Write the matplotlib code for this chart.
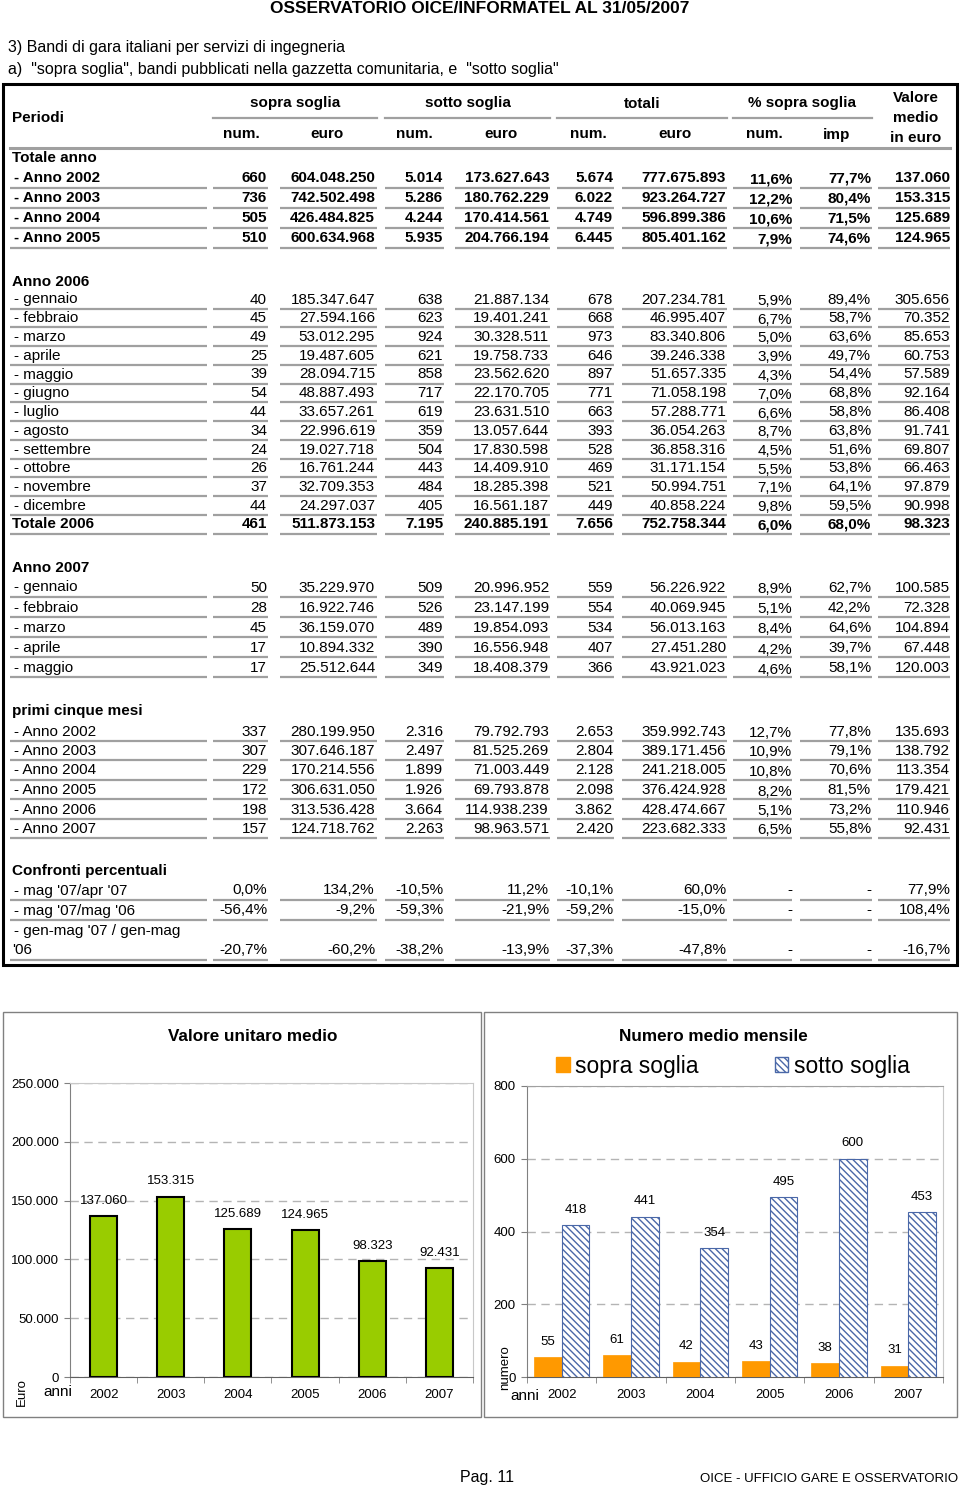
import numpy as np
import matplotlib.pyplot as plt
from matplotlib.patches import Rectangle, Patch

plt.rcParams['font.family'] = ['Liberation Sans', 'DejaVu Sans']

# --- chart data ---
anni = ['2002', '2003', '2004', '2005', '2006', '2007']
valore_medio = [137060, 153315, 125689, 124965, 98323, 92431]
media_sopra = [55, 61, 42, 43, 38, 31]
media_sotto = [418, 441, 354, 495, 600, 453]

# --- table data ---
head_gruppi = ['sopra soglia', 'sotto soglia', 'totali', '% sopra soglia']
head_colonne = ['num.', 'euro', 'num.', 'euro', 'num.', 'euro', 'num.', 'imp']
head_valore = ['Valore', 'medio', 'in euro']

totale_anno = [
    ('- Anno 2002', ['660', '604.048.250', '5.014', '173.627.643', '5.674', '777.675.893', '11,6%', '77,7%', '137.060']),
    ('- Anno 2003', ['736', '742.502.498', '5.286', '180.762.229', '6.022', '923.264.727', '12,2%', '80,4%', '153.315']),
    ('- Anno 2004', ['505', '426.484.825', '4.244', '170.414.561', '4.749', '596.899.386', '10,6%', '71,5%', '125.689']),
    ('- Anno 2005', ['510', '600.634.968', '5.935', '204.766.194', '6.445', '805.401.162', '7,9%', '74,6%', '124.965']),
]

anno_2006 = [
    ('- gennaio', ['40', '185.347.647', '638', '21.887.134', '678', '207.234.781', '5,9%', '89,4%', '305.656']),
    ('- febbraio', ['45', '27.594.166', '623', '19.401.241', '668', '46.995.407', '6,7%', '58,7%', '70.352']),
    ('- marzo', ['49', '53.012.295', '924', '30.328.511', '973', '83.340.806', '5,0%', '63,6%', '85.653']),
    ('- aprile', ['25', '19.487.605', '621', '19.758.733', '646', '39.246.338', '3,9%', '49,7%', '60.753']),
    ('- maggio', ['39', '28.094.715', '858', '23.562.620', '897', '51.657.335', '4,3%', '54,4%', '57.589']),
    ('- giugno', ['54', '48.887.493', '717', '22.170.705', '771', '71.058.198', '7,0%', '68,8%', '92.164']),
    ('- luglio', ['44', '33.657.261', '619', '23.631.510', '663', '57.288.771', '6,6%', '58,8%', '86.408']),
    ('- agosto', ['34', '22.996.619', '359', '13.057.644', '393', '36.054.263', '8,7%', '63,8%', '91.741']),
    ('- settembre', ['24', '19.027.718', '504', '17.830.598', '528', '36.858.316', '4,5%', '51,6%', '69.807']),
    ('- ottobre', ['26', '16.761.244', '443', '14.409.910', '469', '31.171.154', '5,5%', '53,8%', '66.463']),
    ('- novembre', ['37', '32.709.353', '484', '18.285.398', '521', '50.994.751', '7,1%', '64,1%', '97.879']),
    ('- dicembre', ['44', '24.297.037', '405', '16.561.187', '449', '40.858.224', '9,8%', '59,5%', '90.998']),
]
totale_2006 = ['461', '511.873.153', '7.195', '240.885.191', '7.656', '752.758.344', '6,0%', '68,0%', '98.323']

anno_2007 = [
    ('- gennaio', ['50', '35.229.970', '509', '20.996.952', '559', '56.226.922', '8,9%', '62,7%', '100.585']),
    ('- febbraio', ['28', '16.922.746', '526', '23.147.199', '554', '40.069.945', '5,1%', '42,2%', '72.328']),
    ('- marzo', ['45', '36.159.070', '489', '19.854.093', '534', '56.013.163', '8,4%', '64,6%', '104.894']),
    ('- aprile', ['17', '10.894.332', '390', '16.556.948', '407', '27.451.280', '4,2%', '39,7%', '67.448']),
    ('- maggio', ['17', '25.512.644', '349', '18.408.379', '366', '43.921.023', '4,6%', '58,1%', '120.003']),
]

primi_cinque = [
    ('- Anno 2002', ['337', '280.199.950', '2.316', '79.792.793', '2.653', '359.992.743', '12,7%', '77,8%', '135.693']),
    ('- Anno 2003', ['307', '307.646.187', '2.497', '81.525.269', '2.804', '389.171.456', '10,9%', '79,1%', '138.792']),
    ('- Anno 2004', ['229', '170.214.556', '1.899', '71.003.449', '2.128', '241.218.005', '10,8%', '70,6%', '113.354']),
    ('- Anno 2005', ['172', '306.631.050', '1.926', '69.793.878', '2.098', '376.424.928', '8,2%', '81,5%', '179.421']),
    ('- Anno 2006', ['198', '313.536.428', '3.664', '114.938.239', '3.862', '428.474.667', '5,1%', '73,2%', '110.946']),
    ('- Anno 2007', ['157', '124.718.762', '2.263', '98.963.571', '2.420', '223.682.333', '6,5%', '55,8%', '92.431']),
]

confronti = [
    ("- mag '07/apr '07", ['0,0%', '134,2%', '-10,5%', '11,2%', '-10,1%', '60,0%', '-', '-', '77,9%']),
    ("- mag '07/mag '06", ['-56,4%', '-9,2%', '-59,3%', '-21,9%', '-59,2%', '-15,0%', '-', '-', '108,4%']),
]
confronto_genmag = ['-20,7%', '-60,2%', '-38,2%', '-13,9%', '-37,3%', '-47,8%', '-', '-', '-16,7%']


def fmt_it(v):
    return f'{v:,}'.replace(',', '.')


fig = plt.figure(figsize=(9.6, 14.88), dpi=100)
page = fig.add_axes([0, 0, 1, 1])
page.set_xlim(0, 960)
page.set_ylim(1488, 0)
page.axis('off')

# column layout (pixels)
col_right = [267, 375, 443, 549, 613, 726, 792, 871, 950]
segments = [(10, 207), (213, 268), (280, 377), (385, 444), (455, 550),
            (557, 614), (622, 727), (733, 792), (800, 872), (878, 950)]
line_col = '#a0a0a0'
FS = 11
DY = 1.5  # matplotlib centres on the full bbox, nudge text down a bit


def underline(y):
    for a, b in segments:
        page.plot([a, b], [y, y], color=line_col, lw=1.6, solid_capstyle='butt')


def txt(x, y, s, **kw):
    kw.setdefault('fontsize', FS)
    kw.setdefault('va', 'center')
    page.text(x, y + DY, s, **kw)


def draw_row(y, label, values, bold=False, shift_pct=True):
    w = 'bold' if bold else 'normal'
    if label:
        txt(14, y, label, ha='left', fontweight=w)
    for i, (x, v) in enumerate(zip(col_right, values)):
        dy = 1.5 if (i == 6 and shift_pct) else 0
        txt(x, y + dy, v, ha='right', fontweight=w)
    underline(y + 10.5)


def section_title(y, s):
    txt(12, y, s, ha='left', fontweight='bold')


# page headings
txt(480, 7, 'OSSERVATORIO OICE/INFORMATEL AL 31/05/2007', ha='center', fontsize=12.5, fontweight='bold')
txt(8, 46, '3) Bandi di gara italiani per servizi di ingegneria', ha='left', fontsize=11.5)
txt(8, 68, 'a)  "sopra soglia", bandi pubblicati nella gazzetta comunitaria, e  "sotto soglia"',
    ha='left', fontsize=11.5)

# table frame and header
page.add_patch(Rectangle((3, 84), 954, 881, fill=False, ec='black', lw=2.2))
txt(12, 117, 'Periodi', ha='left', fontweight='bold')
group_x = [(213, 377), (385, 550), (557, 727), (733, 872)]
for (a, b), s in zip(group_x, head_gruppi):
    txt((a + b) / 2, 102, s, ha='center', fontweight='bold')
    page.plot([a, b], [118, 118], color=line_col, lw=1.6)
sub_x = [241, 327, 414, 501, 588, 675, 764, 837]
for xx, s in zip(sub_x, head_colonne):
    txt(xx, 133, s, ha='center', fontweight='bold')
for k, s in enumerate(head_valore):
    txt(916, 97 + 20 * k, s, ha='center', fontweight='bold')
page.plot([10, 950], [148, 148], color=line_col, lw=2.2)

# Totale anno
section_title(157, 'Totale anno')
for i, (lab, vals) in enumerate(totale_anno):
    draw_row(177 + 20 * i, lab, vals, bold=True)

# Anno 2006
section_title(280, 'Anno 2006')
for i, (lab, vals) in enumerate(anno_2006):
    draw_row(298 + 18.75 * i, lab, vals)
txt(12, 523, 'Totale 2006', ha='left', fontweight='bold')
draw_row(523, None, totale_2006, bold=True)

# Anno 2007
section_title(566, 'Anno 2007')
for i, (lab, vals) in enumerate(anno_2007):
    draw_row(586 + 20.2 * i, lab, vals)

# primi cinque mesi
section_title(710, 'primi cinque mesi')
for i, (lab, vals) in enumerate(primi_cinque):
    draw_row(730 + 19.5 * i, lab, vals)

# Confronti percentuali
section_title(869, 'Confronti percentuali')
for i, (lab, vals) in enumerate(confronti):
    draw_row(889 + 20 * i, lab, vals, shift_pct=False)
txt(14, 929, "- gen-mag '07 / gen-mag", ha='left')
txt(12, 949, "'06", ha='left')
draw_row(949, None, confronto_genmag, shift_pct=False)

# chart boxes
page.add_patch(Rectangle((3, 1012), 478, 405, fill=False, ec='#808080', lw=1))
page.add_patch(Rectangle((484, 1012), 473, 405, fill=False, ec='#808080', lw=1))

# footer
txt(460, 1476, 'Pag. 11', ha='left', fontsize=11.5)
txt(958, 1477, 'OICE - UFFICIO GARE E OSSERVATORIO', ha='right', fontsize=9.5)

x = np.arange(len(anni))


def style_axis(ax):
    ax.set_xlim(-0.5, len(anni) - 0.5)
    ax.set_xticks(x)
    ax.set_xticklabels(anni, fontsize=9.5)
    ax.set_xticks(np.arange(-0.5, len(anni)), minor=True)
    ax.tick_params(axis='x', which='major', length=0, pad=9)
    ax.tick_params(axis='x', which='minor', length=4, color='#808080')
    ax.tick_params(axis='y', length=4, color='#808080', labelsize=9.5, pad=4)
    ax.yaxis.grid(True, linestyle=(0, (6, 4)), color='#b4b4b4', lw=1)
    ax.set_axisbelow(True)
    ax.spines['left'].set_color('#808080')
    ax.spines['bottom'].set_color('#606060')
    ax.spines['right'].set_color('#c8c8c8')
    ax.spines['top'].set_color('#c8c8c8')


# left chart: valore unitario medio
ax1 = fig.add_axes([70 / 960, 1 - 1377 / 1488, 403 / 960, 294 / 1488])
bars = ax1.bar(x, valore_medio, width=0.4, color='#99CC00', edgecolor='black', linewidth=1.5, zorder=3)
ax1.set_ylim(0, 250000)
yt = np.arange(0, 250001, 50000)
ax1.set_yticks(yt)
ax1.set_yticklabels([fmt_it(v) for v in yt])
style_axis(ax1)
for b, v in zip(bars, valore_medio):
    ax1.annotate(fmt_it(v), (b.get_x() + b.get_width() / 2, v), xytext=(0, 11),
                 textcoords='offset points', ha='center', va='center', fontsize=9.5)
txt(253, 1035, 'Valore unitaro medio', ha='center', fontsize=12.3, fontweight='bold')
txt(58, 1391, 'anni', ha='center', fontsize=11)
page.text(22, 1392, 'Euro', ha='center', va='center', fontsize=9.5, rotation=90)

# right chart: numero medio mensile
ax2 = fig.add_axes([527 / 960, 1 - 1377 / 1488, 416 / 960, 291 / 1488])
b1 = ax2.bar(x - 0.2, media_sopra, width=0.4, color='#FF9900', edgecolor='#FF9900', lw=0.5, zorder=3)
b2 = ax2.bar(x + 0.2, media_sotto, width=0.4, color='white', edgecolor='#4A68A8', lw=0.8,
             hatch='\\' * 5, zorder=3)
ax2.set_ylim(0, 800)
ax2.set_yticks([0, 200, 400, 600, 800])
style_axis(ax2)
ax2.spines['top'].set_color('#a0a0a0')
for bb, vals in ((b1, media_sopra), (b2, media_sotto)):
    for b, v in zip(bb, vals):
        ax2.annotate(str(v), (b.get_x() + b.get_width() / 2, v), xytext=(0, 11),
                     textcoords='offset points', ha='center', va='center', fontsize=9.5)
txt(713, 1035, 'Numero medio mensile', ha='center', fontsize=12.3, fontweight='bold')
txt(525, 1395, 'anni', ha='center', fontsize=11)
page.text(505, 1368, 'numero', ha='center', va='center', fontsize=9.5, rotation=90)
handles = [Patch(facecolor='#FF9900', edgecolor='#FF9900', label='sopra soglia'),
           Patch(facecolor='white', edgecolor='#4A68A8', hatch='\\' * 5, label='sotto soglia')]
fig.legend(handles=handles, loc='center', bbox_to_anchor=(733 / 960, 1 - 1066 / 1488),
           bbox_transform=fig.transFigure, ncol=2, frameon=False, fontsize=16.5,
           handlelength=0.6, handleheight=0.6, handletextpad=0.25, columnspacing=3.3)

fig.savefig('out.png', dpi=100)
